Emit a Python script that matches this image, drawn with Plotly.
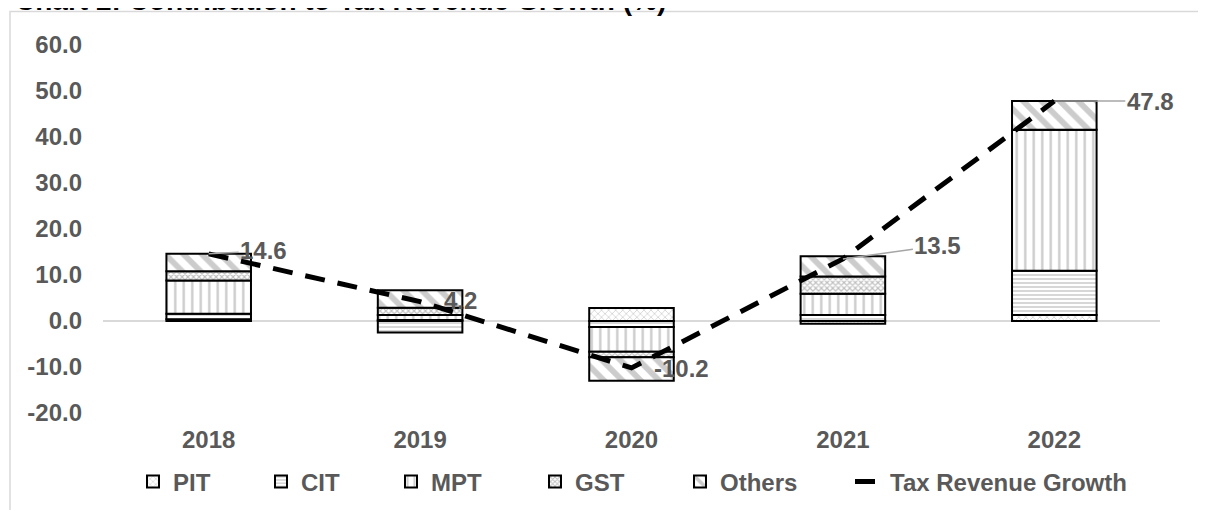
import plotly.graph_objects as go

years = ["2018", "2019", "2020", "2021", "2022"]
pit = [0.4, 0.2, 2.8, -0.6, 1.3]
cit = [1.2, -2.5, -1.3, 1.3, 9.6]
mpt = [7.2, 1.1, -5.4, 4.6, 30.7]
gst = [2.0, 1.6, -1.2, 3.8, 0.0]
others = [3.8, 3.8, -5.1, 4.4, 6.2]
growth = [14.6, 4.2, -10.2, 13.5, 47.8]
growth_labels = ["14.6", "4.2", "-10.2", "13.5", "47.8"]
ytick_vals = [-20, -10, 0, 10, 20, 30, 40, 50, 60]

FONT = "Liberation Sans, Arial, sans-serif"
GRAY_TXT = "#595959"
FS = 24

# figure is placed 8px in from the page edges by the page's default body margin
W, H = 1198, 502
L, R, T, B = 95, 46, 37, 97
PW = W - L - R
PH = H - T - B


def px2paper_x(px):
    return (px - 8 - L) / PW


def px2paper_y(py):
    return (H - B - (py - 8)) / PH


fig = go.Figure()

series = [
    ("PIT", pit, dict(shape="x", size=5, solidity=0.3, fgcolor="#a6a6a6", bgcolor="white")),
    ("CIT", cit, dict(shape="-", size=4, solidity=0.35, fgcolor="#8c8c8c", bgcolor="white")),
    ("MPT", mpt, dict(shape="|", size=8.5, solidity=0.28, fgcolor="#999999", bgcolor="white")),
    ("GST", gst, dict(shape="x", size=4, solidity=0.5, fgcolor="#808080", bgcolor="white")),
    ("Others", others, dict(shape="\\", size=13, solidity=0.45, fgcolor="#999999", bgcolor="white")),
]
legend_text_x = [175, 303, 433, 577, 722, 892]
legend_names = ["legend", "legend2", "legend3", "legend4", "legend5", "legend6"]

for i, (name, vals, pat) in enumerate(series):
    fig.add_trace(go.Bar(
        x=years, y=vals, name="<b>%s</b>" % name, legend=legend_names[i],
        marker=dict(color="white", pattern=pat, line=dict(color="black", width=2)),
    ))

fig.add_trace(go.Scatter(
    x=years, y=growth, name="<b>Tax Revenue Growth</b>", mode="lines", legend=legend_names[5],
    line=dict(color="black", width=5, dash="20px,13px"),
))

# data labels (offsets of label centre from the point, in px); x given as category index
offsets = [(55, -3), (40, -1), (50, 1), (95, -13), (96, 0)]
arrows = [True, False, False, True, True]
for i, (v, lab, (ax, ay), arr) in enumerate(zip(growth, growth_labels, offsets, arrows)):
    if arr:
        fig.add_annotation(
            x=i, y=v, text="<b>%s</b>" % lab, showarrow=True,
            ax=ax, ay=ay, arrowhead=0, arrowwidth=1.5, arrowcolor="#a6a6a6",
            font=dict(family=FONT, size=FS, color=GRAY_TXT),
        )
    else:
        fig.add_annotation(
            x=i, y=v, text="<b>%s</b>" % lab, showarrow=False,
            xshift=ax, yshift=-ay,
            font=dict(family=FONT, size=FS, color=GRAY_TXT),
        )

# title (cut off at the top of the picture, as in the reference)
fig.add_annotation(
    xref="paper", yref="paper", x=px2paper_x(13), y=px2paper_y(18),
    xanchor="left", yanchor="bottom",
    text="<b>Chart 2: Contribution to Tax Revenue Growth (%)</b>", showarrow=False,
    font=dict(family=FONT, size=28, color="black"),
)

# outer chart border
fig.add_shape(type="rect", xref="paper", yref="paper",
              x0=px2paper_x(10), x1=px2paper_x(1230), y0=px2paper_y(540), y1=px2paper_y(11.5),
              line=dict(color="#d9d9d9", width=1.5), layer="below")

legend_common = dict(orientation="h", xanchor="left", yanchor="middle",
                     font=dict(family=FONT, size=FS, color=GRAY_TXT),
                     bgcolor="rgba(0,0,0,0)", borderwidth=0)
layout_legends = {}
for nm, tx in zip(legend_names, legend_text_x):
    layout_legends[nm] = dict(legend_common, x=px2paper_x(tx - 42), y=px2paper_y(482))

fig.update_layout(
    width=W, height=H,
    margin=dict(l=L, r=R, t=T, b=B, autoexpand=False),
    barmode="relative", bargap=0.6,
    plot_bgcolor="white", paper_bgcolor="white",
    font=dict(family=FONT, size=FS, color=GRAY_TXT),
    showlegend=True,
    xaxis=dict(type="category", categoryorder="array", categoryarray=years,
               range=[-0.5, len(years) - 0.5], autorange=False,
               showgrid=False, showline=False, ticks="",
               tickmode="array", tickvals=years, ticktext=["<b>%s</b>" % y for y in years],
               ticklabelstandoff=10,
               tickfont=dict(family=FONT, size=FS, color=GRAY_TXT)),
    yaxis=dict(range=[-20, 60], autorange=False, showgrid=False,
               tickmode="array", tickvals=ytick_vals,
               ticktext=["<b>%.1f</b>" % t for t in ytick_vals],
               zeroline=True, zerolinecolor="#d9d9d9", zerolinewidth=1.5,
               showline=False, ticks="", ticklabelstandoff=20,
               tickfont=dict(family=FONT, size=FS, color=GRAY_TXT)),
    **layout_legends,
)

fig.write_html("out.html")
